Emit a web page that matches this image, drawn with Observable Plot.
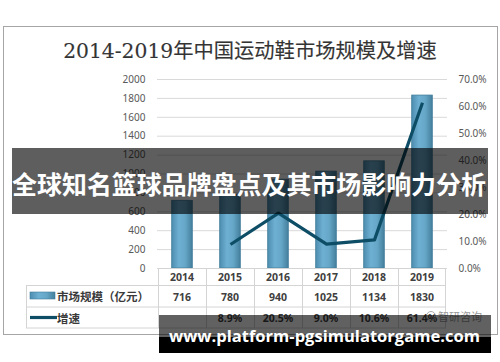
<!DOCTYPE html>
<html><head><meta charset="utf-8">
<script src="https://cdn.jsdelivr.net/npm/d3@7"></script>
<script src="https://cdn.jsdelivr.net/npm/@observablehq/plot@0.6"></script>
<style>body{margin:0;background:#fff} #c{position:relative;width:500px;height:362px;overflow:hidden}</style>
</head><body><div id="c"></div>
<script>
const years = ["2014","2015","2016","2017","2018","2019"];
const marketSize = [716, 780, 940, 1025, 1134, 1830];
const growth = [null, 8.9, 20.5, 9.0, 10.6, 61.4];
const leftTicks = [0, 200, 400, 600, 800, 1000, 1200, 1400, 1600, 1800, 2000];
const rightTicks = [0, 10, 20, 30, 40, 50, 60, 70];
const titleText = "2014-2019年中国运动鞋市场规模及增速";
const bannerText = "全球知名篮球品牌盘点及其市场影响力分析";
const siteText = "www.platform-pgsimulatorgame.com";
const legendLabels = ["市场规模（亿元）", "增速"];
const logoText = "智研咨询";

const PCT = 2000 / 70;
const bars = years.map((y, i) => ({year: y, value: marketSize[i]}));
const lineData = years.map((y, i) => ({year: y, g: growth[i]})).filter(d => d.g != null);

const chart = Plot.plot({
  width: 500, height: 362,
  marginLeft: 157, marginRight: 53, marginTop: 79, marginBottom: 94,
  style: {fontFamily: "'Noto Sans', sans-serif", fontSize: "10px", color: "#595959", background: "#fff"},
  x: {type: "band", domain: years, padding: 0, axis: null},
  y: {domain: [0, 2000], axis: null},
  marks: [
    Plot.gridY(leftTicks, {stroke: "#d9d9d9", strokeOpacity: 1}),
    Plot.axisY(leftTicks, {anchor: "left", tickSize: 0, tickPadding: 12, label: null, tickFormat: d => String(d)}),
    Plot.axisY(rightTicks.map(t => t * PCT), {anchor: "right", tickSize: 0, tickPadding: 11, label: null,
      tickFormat: d => (d / PCT).toFixed(1) + "%"}),
    Plot.barY(bars, {x: "year", y: "value", fill: "url(#barGrad)", stroke: "#3f7d9b", strokeWidth: 0.8,
      insetLeft: 13.7, insetRight: 13.7}),
    Plot.line(lineData, {x: "year", y: d => d.g * PCT, stroke: "#0e4d66", strokeWidth: 3.2, strokeLinecap: "butt"})
  ]
});
document.getElementById("c").appendChild(chart);

const svg = d3.select(chart);
// frame
svg.insert("rect", ":first-child").attr("x", 3.5).attr("y", 26.5).attr("width", 494).attr("height", 308)
  .attr("fill", "none").attr("stroke", "#a6a6a6");
const defs = svg.insert("defs", ":first-child");
const grad = defs.append("linearGradient").attr("id", "barGrad").attr("x1", 0).attr("x2", 1).attr("y1", 0).attr("y2", 0);
[[0, "#4d8db0"], [0.35, "#6eb0d2"], [0.65, "#66a7c8"], [1, "#457f9d"]].forEach(([o, c]) =>
  grad.append("stop").attr("offset", o).attr("stop-color", c));

const xs = chart.scale("x");
const bw = xs.bandwidth;
const x0 = xs.apply(years[0]);
const x1 = xs.apply(years[years.length - 1]) + bw;
const tableLeft = 26;
const rows = [268.5, 285.5, 307, 328];
const lineColor = "#d4d4d4";

const tbl = svg.append("g").attr("text-anchor", "start");
tbl.append("line").attr("x1", x0).attr("x2", x1).attr("y1", rows[0]).attr("y2", rows[0]).attr("stroke", lineColor);
rows.slice(1).forEach(r => tbl.append("line").attr("x1", tableLeft).attr("x2", x1).attr("y1", r).attr("y2", r).attr("stroke", lineColor));
years.forEach(y => tbl.append("line").attr("x1", xs.apply(y) + 0.5).attr("x2", xs.apply(y) + 0.5).attr("y1", rows[0]).attr("y2", rows[3]).attr("stroke", lineColor));
tbl.append("line").attr("x1", x1 - 0.5).attr("x2", x1 - 0.5).attr("y1", rows[0]).attr("y2", rows[3]).attr("stroke", lineColor);
tbl.append("line").attr("x1", tableLeft + 0.5).attr("x2", tableLeft + 0.5).attr("y1", rows[1]).attr("y2", rows[3]).attr("stroke", lineColor);

const cellText = (txt, cx, cy) => tbl.append("text").attr("x", cx).attr("y", cy).attr("text-anchor", "middle")
  .attr("dominant-baseline", "central").attr("font-family", "'Noto Sans', sans-serif").attr("font-weight", "bold")
  .attr("font-size", 10.5).attr("fill", "#404040").text(txt);
years.forEach((y, i) => {
  const cx = xs.apply(y) + bw / 2;
  cellText(y, cx, 277);
  cellText(String(marketSize[i]), cx, 296.5);
  if (growth[i] != null) cellText(growth[i].toFixed(1) + "%", cx, 318);
});
// legend swatches
tbl.append("rect").attr("x", 30).attr("y", 292).attr("width", 25).attr("height", 7).attr("fill", "url(#barGrad)").attr("stroke", "#3f7d9b").attr("stroke-width", 0.6);
tbl.append("line").attr("x1", 30).attr("x2", 57).attr("y1", 317.5).attr("y2", 317.5).attr("stroke", "#0e4d66").attr("stroke-width", 3.2);
[[legendLabels[0], 296], [legendLabels[1], 317.5]].forEach(([t, cy]) =>
  tbl.append("text").attr("x", 57).attr("y", cy).attr("text-anchor", "start").attr("dominant-baseline", "central")
    .attr("font-family", "'Noto Sans CJK SC', sans-serif").attr("font-weight", "bold").attr("font-size", 11.5)
    .attr("fill", "#3a3a3a").text(t));
// logo watermark
tbl.append("circle").attr("cx", 431).attr("cy", 316).attr("r", 4.5).attr("fill", "none").attr("stroke", "#aaa").attr("stroke-width", 1);
tbl.append("text").attr("x", 438).attr("y", 316).attr("text-anchor", "start").attr("dominant-baseline", "central")
  .attr("font-family", "'Noto Sans CJK SC', sans-serif").attr("font-size", 11).attr("fill", "#999").text(logoText);

// title
const fit = (sel, target) => { const w = sel.node().getComputedTextLength(); const fs = +sel.attr("font-size"); sel.attr("font-size", fs * target / w); };
const title = svg.append("text").attr("x", 250).attr("y", 58).attr("text-anchor", "middle")
  .attr("font-family", "'DejaVu Serif', 'Liberation Serif', 'Noto Sans CJK SC', serif").attr("font-size", 20)
  .attr("fill", "#333").attr("stroke", "#555").attr("stroke-width", 0.15).text(titleText);
fit(title, 374);

// overlay banner
svg.append("rect").attr("x", 12).attr("y", 148).attr("width", 476).attr("height", 66).attr("fill", "rgba(0,0,0,0.63)");
const bt = svg.append("text").attr("x", 249).attr("y", 183).attr("text-anchor", "middle").attr("dominant-baseline", "central")
  .attr("font-family", "'Noto Sans CJK SC', sans-serif").attr("font-weight", "bold").attr("font-size", 25)
  .attr("fill", "#fff").text(bannerText);
fit(bt, 474);

// bottom site watermark
svg.append("rect").attr("x", 159).attr("y", 315).attr("width", 332).attr("height", 22).attr("fill", "rgba(0,0,0,0.62)");
svg.append("rect").attr("x", 159).attr("y", 337).attr("width", 332).attr("height", 16).attr("fill", "#000");
const st = svg.append("text").attr("x", 169).attr("y", 341.5).attr("text-anchor", "start")
  .attr("font-family", "'Open Sans', sans-serif").attr("font-weight", "bold").attr("font-size", 17)
  .attr("fill", "#fff").text(siteText);
fit(st, 311);
</script></body></html>
